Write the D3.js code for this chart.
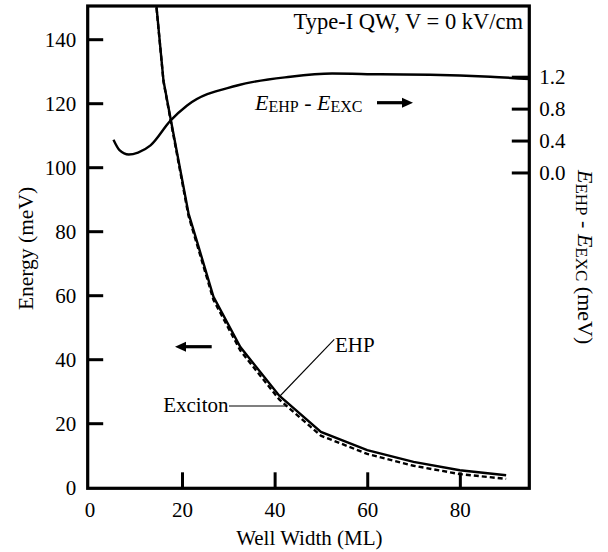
<!DOCTYPE html>
<html>
<head>
<meta charset="utf-8">
<script src="https://cdn.jsdelivr.net/npm/d3@7"></script>
<style>
  html, body { margin: 0; padding: 0; background: #fff; }
  svg { display: block; }
  text { font-family: "Liberation Serif", "DejaVu Serif", serif; fill: #000; }
</style>
</head>
<body>
<svg id="chart" width="608" height="552"></svg>
<script>
// ---- data ----
const ehpWidth   = [12, 14.5, 16, 17.6, 21.4, 23.6, 26.8, 32.6, 41, 50, 60, 70, 80, 90];
const ehpEnergy  = [185, 150, 127, 114.7, 85.6, 75, 59.5, 43.8, 28.6, 17.3, 11.6, 7.9, 5.3, 3.75];
const excWidth   = [12, 14.5, 16, 17.6, 21.4, 23.6, 26.8, 32.6, 41, 50, 60, 70, 80, 90];
const excEnergy  = [184.6, 149.7, 126.8, 114.2, 84.8, 74.1, 58.5, 42.7, 27.4, 16.1, 10.4, 6.7, 4.1, 2.6];
const diffWidth  = [5.2, 6.5, 8.5, 10.5, 13.2, 17.5, 21.1, 31.9, 43.4, 52.4, 62.9, 73.6, 86.6, 95.2];
const diffValue  = [0.41, 0.28, 0.225, 0.25, 0.34, 0.65, 0.84, 1.09, 1.2, 1.24, 1.23, 1.225, 1.2, 1.17];
const xTicks     = [0, 20, 40, 60, 80];
const yTicks     = [0, 20, 40, 60, 80, 100, 120, 140];
const y2Ticks    = [0.0, 0.4, 0.8, 1.2];
const titleText  = "Type-I QW, V = 0 kV/cm";
const xLabel     = "Well Width (ML)";
const yLabel     = "Energy (meV)";

// ---- layout ----
const SERIF = '"Liberation Serif", "DejaVu Serif", serif';
const svg = d3.select("#chart");
const frame = { left: 87.7, right: 529.3, top: 6, bottom: 488.3 };
const x  = d3.scaleLinear().domain([0, 95]).range([89.4, 529.3]);
const y  = d3.scaleLinear().domain([0, 150]).range([487.2, 7.2]);
const y2 = d3.scaleLinear().domain([-3.944, 2.071]).range([487.2, 7.2]);
const FS = 21;

svg.append("defs").append("clipPath").attr("id", "plotclip")
  .append("rect")
  .attr("x", frame.left).attr("y", frame.top)
  .attr("width", frame.right - frame.left).attr("height", frame.bottom - frame.top);

const plot = svg.append("g").attr("clip-path", "url(#plotclip)");

// curves
const lineL = d3.line().x(d => x(d[0])).y(d => y(d[1]));
const lineR = d3.line().x(d => x(d[0])).y(d => y2(d[1])).curve(d3.curveMonotoneX);

plot.append("path")
  .datum(excWidth.map((w, i) => [w, excEnergy[i]]))
  .attr("d", lineL).attr("fill", "none").attr("stroke", "#000")
  .attr("stroke-width", 2.4).attr("stroke-dasharray", "5,3");

plot.append("path")
  .datum(ehpWidth.map((w, i) => [w, ehpEnergy[i]]))
  .attr("d", lineL).attr("fill", "none").attr("stroke", "#000")
  .attr("stroke-width", 2.4);

plot.append("path")
  .datum(diffWidth.map((w, i) => [w, diffValue[i]]))
  .attr("d", lineR).attr("fill", "none").attr("stroke", "#000")
  .attr("stroke-width", 2.4);

// axes (ticks inward)
const axL = d3.axisLeft(y).tickValues(yTicks).tickSizeInner(-15.5).tickSizeOuter(0).tickPadding(11.5);
const gL = svg.append("g").attr("transform", `translate(${frame.left},0)`).call(axL);
const axB = d3.axisBottom(x).tickValues(xTicks).tickSizeInner(-16).tickSizeOuter(0).tickPadding(13.5);
const gB = svg.append("g").attr("transform", `translate(0,${frame.bottom})`).call(axB);
const axR = d3.axisRight(y2).tickValues(y2Ticks).tickSizeInner(-17.5).tickSizeOuter(0)
  .tickPadding(10).tickFormat(d3.format(".1f"));
const gR = svg.append("g").attr("transform", `translate(${frame.right},0)`).call(axR);

[gL, gB, gR].forEach(g => {
  g.attr("font-family", null);
  g.select(".domain").remove();
  g.selectAll(".tick line").attr("stroke", "#000").attr("stroke-width", 3);
  g.selectAll(".tick text").style("font-family", SERIF)
    .style("font-size", FS + "px").attr("fill", "#000");
});
gL.selectAll(".tick text").attr("dy", "0.34em");
gR.selectAll(".tick text").attr("dy", "0.34em");
// the zero ticks coincide with the frame
gB.selectAll(".tick").filter(d => d === 0).select("line").remove();
gL.selectAll(".tick").filter(d => d === 0).select("line").remove();

// frame
svg.append("rect")
  .attr("x", frame.left).attr("y", frame.top)
  .attr("width", frame.right - frame.left).attr("height", frame.bottom - frame.top)
  .attr("fill", "none").attr("stroke", "#000").attr("stroke-width", 3.2);

// title
svg.append("text").attr("x", 523).attr("y", 28.5).attr("text-anchor", "end")
  .style("font-size", "22.5px").text(titleText);

// axis labels
svg.append("text").attr("x", (x(0) + frame.right) / 2).attr("y", 545)
  .attr("text-anchor", "middle").style("font-size", FS + "px").text(xLabel);

svg.append("text").attr("transform", "translate(33,248.5) rotate(-90)")
  .attr("text-anchor", "middle").style("font-size", "21.5px").text(yLabel);

function diffLabel(sel, big, small) {
  sel.append("tspan").attr("font-style", "italic").style("font-size", big + "px").text("E");
  sel.append("tspan").style("font-size", small + "px").attr("dy", 2.5).text("EHP");
  sel.append("tspan").style("font-size", big + "px").attr("dy", -2.5).text(" - ");
  sel.append("tspan").attr("font-style", "italic").style("font-size", big + "px").text("E");
  sel.append("tspan").style("font-size", small + "px").attr("dy", 2.5).text("EXC");
}

const r2 = svg.append("text").attr("transform", "translate(578,170) rotate(90)")
  .attr("text-anchor", "start");
diffLabel(r2, 22, 17);
r2.append("tspan").style("font-size", "22px").attr("dy", -2.5).text(" (meV)");

// in-plot label for difference curve
const dl = svg.append("text").attr("x", 255).attr("y", 109.5);
diffLabel(dl, 22, 16);

// arrows
function arrow(x1, x2, yy, dir) {
  const headLen = 11, half = 5;
  if (dir > 0) {
    svg.append("line").attr("x1", x1).attr("x2", x2 - headLen + 1).attr("y1", yy).attr("y2", yy)
      .attr("stroke", "#000").attr("stroke-width", 3.2);
    svg.append("path").attr("d", `M${x2},${yy} L${x2 - headLen},${yy - half} L${x2 - headLen},${yy + half} Z`)
      .attr("fill", "#000");
  } else {
    svg.append("line").attr("x1", x1 + headLen - 1).attr("x2", x2).attr("y1", yy).attr("y2", yy)
      .attr("stroke", "#000").attr("stroke-width", 3.2);
    svg.append("path").attr("d", `M${x1},${yy} L${x1 + headLen},${yy - half} L${x1 + headLen},${yy + half} Z`)
      .attr("fill", "#000");
  }
}
arrow(377, 413, 102.7, 1);
arrow(175, 211.7, 346.7, -1);

// EHP and Exciton labels with leaders
svg.append("line").attr("x1", 334.3).attr("y1", 339.3).attr("x2", 280).attr("y2", 396)
  .attr("stroke", "#000").attr("stroke-width", 1.1);
svg.append("text").attr("x", 335).attr("y", 352).style("font-size", FS + "px").text("EHP");

svg.append("line").attr("x1", 229).attr("y1", 406).attr("x2", 287).attr("y2", 406)
  .attr("stroke", "#000").attr("stroke-width", 1.1);
svg.append("text").attr("x", 228.5).attr("y", 412).attr("text-anchor", "end")
  .style("font-size", FS + "px").text("Exciton");
</script>
</body>
</html>
